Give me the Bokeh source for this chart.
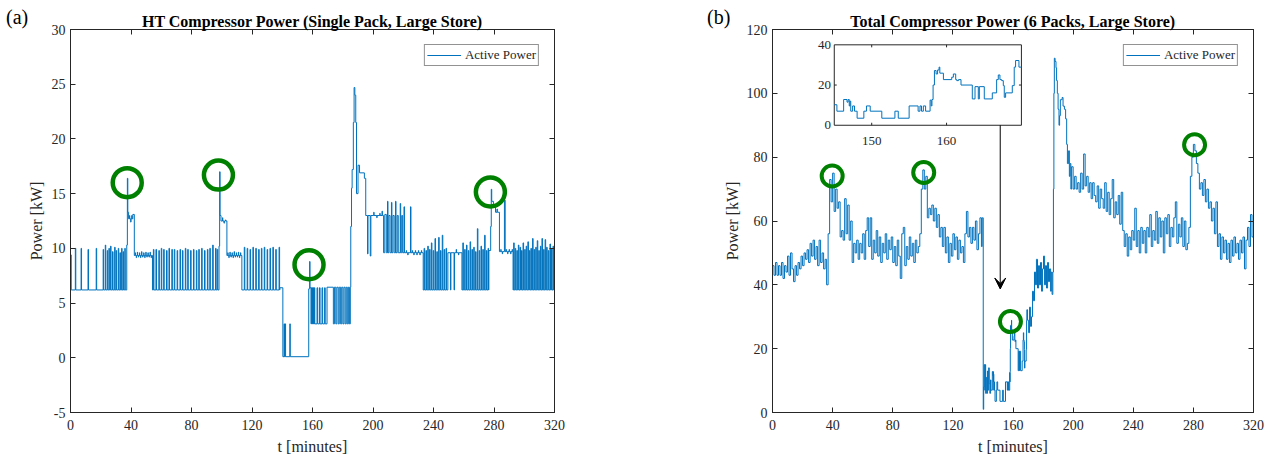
from bokeh.plotting import figure
from bokeh.layouts import row
from bokeh.models import (Range1d, LinearAxis, FixedTicker, Arrow, VeeHead,
                          Legend, LegendItem, Div)
from bokeh.core.properties import value
from bokeh.embed import file_html
from bokeh.resources import INLINE

FONT = "Liberation Serif"
BLUE = "#0072BD"
GREEN = "#008000"
INK = "#262626"

# ---------------- data: panel (a) HT compressor power ----------------
x_ticks = [0, 40, 80, 120, 160, 200, 240, 280, 320]
a_y_ticks = [-5, 0, 5, 10, 15, 20, 25, 30]
b_y_ticks = [0, 20, 40, 60, 80, 100, 120]

# step levels: segment start time [min] and level [kW]
a_seg_t = [0.0, 0.5, 37.2, 37.6, 37.9, 38.4, 41.2, 42.2, 54.2, 98.2, 98.6, 98.9, 99.5,
           103.4, 113.3, 138.4, 140.4, 157.5, 158.1, 158.35, 161.5, 169.6,
           185.3, 185.8, 186.2, 187.0, 187.5, 188.0, 188.6, 189.1, 190.1, 191.1, 194.3,
           195.2, 207.0, 233.2, 249.5, 258.8, 276.6, 277.8, 278.2, 278.5, 279.6, 281.0,
           283.6, 292.6]
a_seg_y = [9.4, 6.2, 10.3, 16.4, 13.3, 12.7, 13.1, 9.35, 6.2, 10.2, 17.0, 13.0, 12.5,
           9.35, 6.2, 6.4, 0.1, 6.3, 8.8, 6.4, 3.1, 6.45,
           12.0, 15.5, 17.2, 21.5, 24.7, 24.0, 21.5, 15.0, 17.6, 16.9, 16.4,
           13.0, 9.6, 6.2, 9.6, 6.2, 9.8, 12.0, 15.4, 14.3, 13.8, 13.3,
           9.7, 6.2]

# compressor switching pulses: (time, level reached, duration)
a_pulses = [
    (3.2, 10.0, .3), (7.0, 10.0, .3), (11.6, 9.9, .3), (17.0, 10.0, .3), (21.6, 9.9, .3),
    (23.0, 10.3, .3), (24.3, 9.8, .3), (25.4, 10.0, .3), (26.5, 10.2, .3), (27.8, 9.7, .3),
    (29.2, 10.1, .3), (30.2, 9.8, .3), (31.6, 10.0, .3), (32.7, 9.6, .3), (33.8, 10.0, .3),
    (34.8, 9.7, .3), (35.9, 10.0, .3),
    (39.0, 13.0, .2), (39.8, 12.4, .2), (40.5, 13.0, .2),
    (42.8, 9.6, .2), (43.5, 9.15, .2), (44.2, 9.65, .2), (44.9, 9.2, .2), (45.6, 9.6, .2),
    (46.3, 9.15, .2), (47.0, 9.7, .2), (47.7, 9.2, .2), (48.4, 9.6, .2), (49.1, 9.15, .2),
    (49.8, 9.65, .2), (50.5, 9.2, .2), (51.2, 9.6, .2), (51.9, 9.2, .2), (52.6, 9.65, .2),
    (53.3, 9.15, .2),
    (54.8, 9.9, .35), (56.5, 9.9, .35), (58.4, 9.8, .35), (60.0, 10.0, .35), (61.6, 9.9, .35),
    (63.5, 9.8, .35), (65.1, 10.0, .35), (67.0, 9.9, .35), (68.6, 9.9, .35), (70.5, 9.8, .35),
    (72.4, 9.9, .35), (74.0, 9.8, .35), (75.9, 10.0, .35), (77.5, 9.9, .35), (79.4, 9.8, .35),
    (81.3, 9.9, .35), (83.2, 9.8, .35), (84.8, 9.9, .35), (86.7, 10.0, .35), (88.6, 9.8, .35),
    (90.5, 9.9, .35), (92.1, 10.0, .35), (94.0, 10.3, .35), (95.9, 10.0, .35), (97.0, 9.9, .35),
    (100.5, 12.8, .2), (101.5, 12.3, .2), (102.5, 12.6, .2),
    (104.0, 9.6, .2), (104.7, 9.15, .2), (105.4, 9.65, .2), (106.1, 9.2, .2), (106.8, 9.6, .2),
    (107.5, 9.15, .2), (108.2, 9.7, .2), (108.9, 9.2, .2), (109.6, 9.6, .2), (110.3, 9.2, .2),
    (111.0, 9.65, .2), (111.7, 9.15, .2), (112.4, 9.6, .2),
    (114.9, 10.1, .35), (116.8, 10.0, .35), (118.7, 9.9, .35), (120.6, 10.1, .35),
    (122.5, 10.0, .35), (124.4, 9.9, .35), (126.2, 10.0, .35), (128.1, 10.1, .35),
    (130.0, 9.9, .35), (131.9, 10.0, .35), (133.8, 10.1, .35), (135.7, 9.9, .35),
    (137.9, 10.1, .35),
    (141.2, 3.1, .3), (141.9, 3.1, .3), (145.0, 3.1, .3),
    (159.0, 3.1, .3), (159.7, 3.1, .3), (160.4, 3.1, .3), (161.0, 3.1, .2),
    (163.0, 6.4, .4), (164.6, 6.4, .4), (166.3, 6.4, .4), (168.0, 6.4, .4),
    (173.8, 3.1, .7), (175.4, 3.1, .7), (177.0, 3.1, .7), (178.6, 3.1, .7), (180.1, 3.1, .7),
    (181.6, 3.1, .7), (183.0, 3.1, .7), (184.4, 3.1, .6),
    (196.4, 9.5, .3), (198.2, 9.3, .4), (200.5, 13.3, .2), (202.5, 12.8, .2),
    (204.5, 13.2, .2), (206.0, 13.4, .2),
    (207.8, 13.1, 1.0), (209.6, 14.3, .3), (210.5, 13.0, .8), (212.2, 14.2, .3),
    (213.2, 13.0, .8), (214.9, 14.3, .3), (216.0, 13.0, .7), (218.0, 14.1, .3),
    (219.0, 13.0, .6), (220.5, 13.8, .3), (222.0, 9.8, .2), (223.0, 9.4, .2),
    (224.8, 13.8, .3), (226.0, 9.8, .2), (227.0, 9.4, .2), (228.0, 9.8, .2),
    (229.0, 9.4, .2), (230.0, 9.8, .2), (231.0, 9.4, .2), (232.0, 9.8, .2),
    (233.8, 10.0, .35), (235.0, 9.8, .35), (236.2, 10.2, .35), (237.4, 9.9, .35),
    (238.6, 10.5, .35), (239.8, 9.8, .35), (241.0, 10.9, .35), (242.2, 9.7, .35),
    (243.4, 11.0, .35), (244.6, 9.8, .35), (245.8, 11.2, .35), (247.0, 9.9, .35),
    (248.3, 10.0, .35),
    (251.2, 6.2, .3), (253.6, 6.2, .3), (255.0, 9.9, .2), (256.5, 9.4, .2),
    (259.4, 10.5, .35), (260.6, 9.9, .35), (261.8, 10.3, .35), (263.0, 9.8, .35),
    (264.2, 10.6, .35), (265.4, 9.9, .35), (266.6, 10.1, .35), (267.8, 9.7, .35),
    (269.0, 11.8, .35), (270.2, 9.8, .35), (271.4, 10.2, .35), (272.6, 9.9, .35),
    (273.8, 11.2, .35), (275.0, 9.8, .35), (276.1, 10.0, .3),
    (282.0, 13.6, .2),
    (284.5, 9.9, .2), (285.5, 9.5, .2), (286.9, 14.4, .5), (288.0, 9.9, .2), (289.0, 9.5, .2),
    (290.0, 9.9, .2), (291.0, 9.5, .2), (292.0, 9.9, .2),
    (293.0, 10.5, .35), (294.0, 10.0, .35), (295.1, 9.8, .35), (296.1, 10.3, .35),
    (297.2, 10.1, .35), (298.2, 9.8, .35), (299.2, 10.5, .35), (300.3, 9.9, .35),
    (301.3, 10.2, .35), (302.4, 10.6, .35), (303.4, 9.8, .35), (304.4, 10.0, .35),
    (305.5, 10.9, .35), (306.5, 9.9, .35), (307.6, 10.1, .35), (308.6, 10.7, .35),
    (309.6, 9.8, .35), (310.7, 10.2, .35), (311.7, 10.9, .35), (312.8, 9.9, .35),
    (313.8, 10.8, .35), (314.8, 10.1, .35), (315.9, 9.8, .35), (317.0, 10.4, .35),
    (318.0, 10.0, .35), (319.0, 10.2, .35),
]

a_circle_t = [37.5, 97.8, 157.7, 277.6]
a_circle_y = [16.0, 16.7, 8.5, 15.15]

# ---------------- data: panel (b) total compressor power ----------------
# one-minute samples, t = 0 ... 139
b1_y = [46, 43, 47, 43, 46, 43, 47, 42, 46, 44,
        49, 43, 50, 45, 41, 46, 43, 47, 45, 49,
        46, 50, 48, 51, 47, 53, 49, 54, 48, 52,
        46, 54, 47, 50, 45, 48, 40, 56, 73, 66,
        75, 63, 70, 64, 66, 55, 57, 54, 67, 56,
        65, 54, 60, 47, 53, 50, 54, 48, 53, 50,
        56, 48, 57, 61, 52, 61, 48, 54, 50, 57,
        49, 55, 47, 53, 50, 56, 48, 54, 51, 55,
        47, 52, 46, 54, 49, 42, 56, 58, 46, 52,
        48, 55, 49, 53, 47, 54, 50, 52, 56, 70,
        76, 70, 74, 61, 64, 62, 65, 60, 64, 58,
        62, 55, 58, 52, 58, 50, 55, 47, 53, 49,
        56, 51, 55, 48, 54, 50, 52, 47, 56, 63,
        55, 58, 53, 58, 54, 60, 51, 56, 61, 52]
# detailed change points, t = 139.5 ... 198.5 (shutdown, inset period, restart peak)
b2_t = [139.5, 140.2, 140.5, 140.8, 141.2, 141.5, 141.8, 142.2, 142.6, 143.0, 143.4, 143.8,
        144.2, 144.6,
        145.0, 145.35, 146.25, 146.7, 146.85, 147.0, 147.1, 147.2, 147.45, 147.7,
        148.05, 148.95, 149.3, 149.8, 151.35, 153.1, 153.55, 155.0, 156.2, 156.45,
        156.65, 156.9, 157.2, 157.8, 157.95, 158.05, 158.2, 158.38, 158.6, 158.8,
        159.0, 159.1, 159.58, 160.69, 160.91, 161.22, 161.36, 161.6, 161.93, 163.44,
        163.8, 164.24, 164.38, 165.04, 166.11, 166.69, 166.91, 167.13, 167.36, 167.58,
        167.71, 167.89, 168.78, 169.04, 169.22, 169.67,
        170.4, 171.0, 171.6, 172.3, 173.0, 173.6, 174.3, 175.0, 175.6, 176.3,
        177.0, 177.6, 178.3, 179.0, 179.6, 180.3, 181.0, 181.6, 182.3, 183.0,
        183.6, 184.3, 185.0, 185.5, 186.0, 186.5, 186.9, 187.2, 187.5, 188.0,
        188.6, 189.0, 189.5, 190.0, 190.6, 191.0, 191.5, 192.7, 193.3, 194.2,
        195.0, 195.7, 196.2, 197.0, 197.5, 198.0, 198.5]
b2_y = [61, 1, 8, 15, 7, 15, 6, 11, 6, 13, 7, 14, 9, 6,
        10.2, 7.0, 12.8, 11.5, 12.8, 9.6, 12.0, 7.0, 9.6, 7.0,
        3.5, 7.0, 9.6, 7.0, 3.5, 7.0, 3.5, 9.6, 7.0, 9.6,
        7.0, 9.6, 7.0, 12.5, 9.6, 12.8, 20.0, 27.2, 25.5, 27.5,
        28.9, 25.9, 22.7, 23.9, 25.5, 22.7, 22.2, 22.7, 20.0, 13.1,
        19.2, 13.1, 19.2, 13.1, 16.1, 22.7, 25.0, 22.7, 22.2, 19.7,
        13.9, 16.1, 19.7, 28.9, 32.2, 28.9,
        25, 33, 27, 30, 38, 35, 44, 40, 48, 39,
        46, 40, 47, 38, 45, 49, 40, 46, 39, 47,
        41, 45, 38, 44, 37, 44, 70, 100, 111, 110,
        108, 104, 100, 95, 90, 93, 98, 98.7, 96, 95,
        92, 84, 78, 82, 74, 78, 70]
# one-minute samples, t = 199 ... 320
b3_y = [77, 70, 74, 70, 72, 69, 75, 70, 81, 71,
        74, 69, 72, 67, 72, 68, 66, 71, 64, 70,
        67, 64, 72, 63, 69, 62, 67, 73, 61, 66,
        62, 68, 59, 69, 57, 52, 56, 49, 55, 51,
        57, 54, 64, 52, 57, 50, 58, 53, 57, 50,
        58, 55, 62, 52, 57, 54, 63, 53, 61, 55,
        60, 50, 61, 56, 62, 52, 58, 55, 61, 66,
        53, 59, 55, 61, 52, 60, 51, 53, 58, 74,
        80, 84, 82, 78, 75, 70, 72, 68, 73, 66,
        70, 64, 66, 60, 64, 56, 66, 52, 56, 48,
        55, 50, 54, 48, 53, 47, 54, 49, 55, 50,
        53, 48, 54, 50, 55, 45, 54, 58, 52, 62,
        55, 55]

b_circle_t = [39.7, 100.6, 158.3, 280.8]
b_circle_y = [74.1, 75.2, 28.5, 83.9]

inset_t_range = (145, 170)
inset_y_range = (0, 40)
inset_x_ticks = [150, 160]
inset_y_ticks = [0, 20, 40]

# ---------------- build series ----------------
a_x, a_y = [], []
a_end = a_seg_t[1:] + [320.0]
for t0, t1, lv in zip(a_seg_t, a_end, a_seg_y):
    a_x.append(t0); a_y.append(lv)
    for pt, py, pw in sorted(a_pulses):
        if t0 <= pt < t1:
            a_x += [pt, pt, pt + pw, pt + pw]
            a_y += [lv, py, py, lv]
    a_x.append(t1); a_y.append(lv)

b_t = list(range(len(b1_y))) + b2_t + [199 + i for i in range(len(b3_y))]
b_y = b1_y + b2_y + b3_y

in_t = [t for t in b_t if inset_t_range[0] <= t <= inset_t_range[1]]
in_y = [y for t, y in zip(b_t, b_y) if inset_t_range[0] <= t <= inset_t_range[1]]
in_t.append(inset_t_range[1]); in_y.append(in_y[-1])


def style_axes(p, xt, yt, ylab_standoff):
    xa = p.xaxis[0]
    ya = p.yaxis[0]
    xa.ticker = FixedTicker(ticks=xt)
    ya.ticker = FixedTicker(ticks=yt)
    top = LinearAxis(ticker=FixedTicker(ticks=xt))
    right = LinearAxis(ticker=FixedTicker(ticks=yt))
    p.add_layout(top, "above")
    p.add_layout(right, "right")
    for ax in [xa, ya, top, right]:
        ax.major_tick_in = 5
        ax.major_tick_out = 0
        ax.minor_tick_line_color = None
        ax.axis_line_color = INK
        ax.major_tick_line_color = INK
        ax.major_label_text_font = FONT
        ax.major_label_text_font_size = "14px"
        ax.major_label_text_color = INK
    for ax in [top, right]:
        ax.major_label_text_font_size = "1px"
        ax.major_label_text_color = None
        ax.major_label_standoff = 0
    xa.major_label_standoff = 7
    ya.major_label_standoff = 5
    xa.axis_label = "t [minutes]"
    ya.axis_label = "Power [kW]"
    for ax in [xa, ya]:
        ax.axis_label_text_font = FONT
        ax.axis_label_text_font_size = "16px"
        ax.axis_label_text_font_style = "normal"
        ax.axis_label_text_color = INK
    xa.axis_label_standoff = 5
    ya.axis_label_standoff = ylab_standoff
    p.xgrid.grid_line_color = None
    p.ygrid.grid_line_color = None
    p.outline_line_color = INK
    p.border_fill_alpha = 0
    p.title.text_font = FONT
    p.title.text_font_size = "16px"
    p.title.text_font_style = "bold"
    p.title.align = "center"
    p.title.text_color = "black"
    if "standoff" in p.title.properties():
        p.title.standoff = 0


def add_legend(p, r):
    leg = Legend(items=[LegendItem(label="Active Power", renderers=[r])],
                 location="top_right", margin=15, padding=2, spacing=0,
                 glyph_width=34, glyph_height=12, label_height=12, label_standoff=4,
                 label_text_font=FONT, label_text_font_size="13px", label_text_color=INK,
                 border_line_color=INK, border_line_width=1, background_fill_color="white")
    p.add_layout(leg)


def panel_tag(text, left_pad, width):
    html = ('<div style="font-family:\'Liberation Serif\';font-size:20px;line-height:20px;'
            'color:#000;margin-top:7px;margin-left:%dpx;white-space:nowrap">%s</div>'
            % (left_pad, text))
    return Div(text=html, width=width, height=458, margin=0)


# ---------------- panel (a) ----------------
pa = figure(width=618, height=458, x_range=Range1d(0, 320), y_range=Range1d(-5, 30),
            output_backend="svg", toolbar_location=None, margin=0,
            min_border_left=48, min_border_right=86, min_border_top=29, min_border_bottom=46,
            title="HT Compressor Power (Single Pack, Large Store)")
style_axes(pa, x_ticks, a_y_ticks, 4)
pa.yaxis[0].major_label_overrides = {-5: "-5"}
ra = pa.line(a_x, a_y, line_color=BLUE, line_width=1)
pa.scatter(a_circle_t, a_circle_y, marker="circle", size=29, fill_alpha=0,
           line_color=GREEN, line_width=4.5)
add_legend(pa, ra)

# ---------------- panel (b) ----------------
pb = figure(width=551, height=458, x_range=Range1d(0, 320), y_range=Range1d(0, 120),
            output_backend="svg", toolbar_location=None, margin=0,
            min_border_left=50, min_border_right=18, min_border_top=29, min_border_bottom=46,
            title="Total Compressor Power (6 Packs, Large Store)")
style_axes(pb, x_ticks, b_y_ticks, 3)
rb = pb.step(b_t + [320], b_y + [b_y[-1]], mode="after", line_color=BLUE, line_width=1)
pb.scatter(b_circle_t, b_circle_y, marker="circle", size=21, fill_alpha=0,
           line_color=GREEN, line_width=4)
add_legend(pb, rb)

# inset (zoom of the shutdown period) drawn in a sub-coordinate system
ins = pb.subplot(x_source=Range1d(*inset_t_range), y_source=Range1d(*inset_y_range),
                 x_target=Range1d(41.1, 165.6), y_target=Range1d(90.0, 115.2))
ins.quad(left=[inset_t_range[0]], right=[inset_t_range[1]],
         bottom=[inset_y_range[0]], top=[inset_y_range[1]],
         fill_color="white", line_color=INK, line_width=1)
ins.step(in_t, in_y, mode="after", line_color=BLUE, line_width=1)
tx_len = 0.33
ty_len = 1.25
ins.segment(x0=inset_x_ticks * 2, x1=inset_x_ticks * 2,
            y0=[inset_y_range[0]] * 2 + [inset_y_range[1]] * 2,
            y1=[inset_y_range[0] + ty_len] * 2 + [inset_y_range[1] - ty_len] * 2,
            line_color=INK, line_width=1)
ins.segment(x0=[inset_t_range[0], inset_t_range[1]],
            x1=[inset_t_range[0] + tx_len, inset_t_range[1] - tx_len],
            y0=[20, 20], y1=[20, 20], line_color=INK, line_width=1)
ins.text(x=[inset_t_range[0] - 0.45] * 3, y=inset_y_ticks, text=[str(v) for v in inset_y_ticks],
         text_align="right", text_baseline="middle", text_font=value(FONT),
         text_font_size=value("13px"), text_color=INK)
ins.text(x=inset_x_ticks, y=[-7.8] * 2, text=[str(v) for v in inset_x_ticks],
         text_align="center", text_baseline="middle", text_font=value(FONT),
         text_font_size=value("13px"), text_color=INK)

pb.add_layout(Arrow(end=VeeHead(size=11, fill_color="black", line_color="black"),
                    x_start=151.5, y_start=90.0, x_end=151.5, y_end=38.7,
                    line_color="black", line_width=1))

tag_a = panel_tag("(a)", 6, 22)
tag_b = panel_tag("(b)", 67, 80)

layout = row(tag_a, pa, tag_b, pb, margin=0, spacing=0)
open("out.html", "w").write(file_html(layout, INLINE))
